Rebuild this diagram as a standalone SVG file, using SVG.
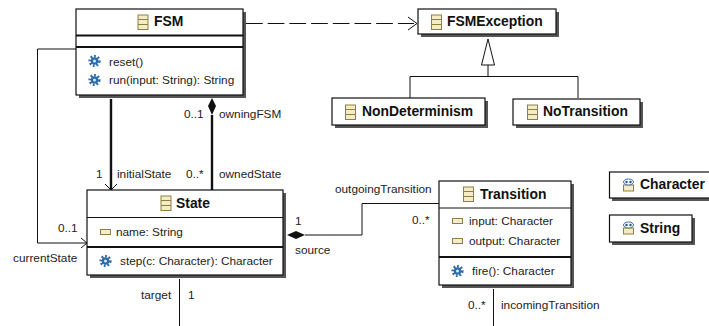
<svg xmlns="http://www.w3.org/2000/svg" width="709" height="326" viewBox="0 0 709 326">
<style>
text{font-family:"Liberation Sans",Arial,sans-serif;font-size:11.8px;fill:#222}
.t{font-weight:bold;font-size:13.9px;fill:#111}
.box{fill:#fff;stroke:#111;stroke-width:1.2}
.sh{fill:#555}
.d{stroke:#111;stroke-width:2;fill:none}
.d1{stroke:#111;stroke-width:1;fill:none}
.c{stroke:#111;stroke-width:1;fill:none}
.c2{stroke:#111;stroke-width:2.4;fill:none}
.ic{fill:#f3ecc4;stroke:#8d8044;stroke-width:1}
.opc{fill:none;stroke:#2c6aa8;stroke-width:2.600;stroke-dasharray:1.800 1.800}
</style>
<defs>
<filter id="b" x="-5%" y="-5%" width="110%" height="110%"><feGaussianBlur stdDeviation="0.6"/></filter>
<g id="cls"><rect x="-5" y="-7" width="10" height="14.500" class="ic"/><path d="M-5-2.500H5M-5 2.500H5" stroke="#8d8044" fill="none"/></g>
<g id="opi"><circle r="4.800" class="opc"/><circle r="3.800" fill="#2c6aa8"/><circle r="1.500" fill="#dbe8f4"/></g>
<g id="attr"><rect x="-5" y="-2.500" width="10" height="5" class="ic"/></g>
<g id="dt"><rect x="-5" y="0" width="10" height="6" class="ic"/><ellipse cx="0" cy="-3" rx="5" ry="3" fill="#fff" stroke="#3a6ea5"/><circle cx="-2" cy="-3" r="1.200" fill="#1d4f86"/><circle cx="2" cy="-3" r="1.200" fill="#1d4f86"/></g>
</defs>
<g id="connectors">
<path class="c" d="M76 49H37.500V243H87"/>
<path class="c" d="M81 238L87 243L81 248"/>
<path class="c2" d="M111 99V190"/>
<path class="c" d="M105 184L111 190L117 184"/>
<path class="c2" d="M212 115V190"/>
<path d="M212 98L216 106L212 115L208 106Z" fill="#111"/>
<path class="c" d="M246 23.500H414" stroke-dasharray="16.700 5"/>
<path class="c" d="M408 17L417 23.500L408 30"/>
<path class="c" d="M488 65V76.500M410 98V76.500H578V98"/>
<path d="M488 39L494.500 65H481.500Z" fill="#fff" stroke="#111"/>
<path class="c" d="M305 235H362V203.500H439"/>
<path d="M287 235L296 231L305 235L296 239Z" fill="#111"/>
<path class="c" d="M179.500 279V326"/>
<path class="c" d="M493.500 289V326"/>
</g>
<g id="FSM">
<rect class="sh" filter="url(#b)" x="79" y="12" width="167" height="86"/>
<rect class="box" x="76" y="9" width="167" height="86"/>
<path class="d" d="M76 35.500H243M76 47H243"/>
<use href="#cls" x="143" y="22"/>
<text class="t" x="154" y="26">FSM</text>
<use href="#opi" x="94.500" y="61"/><text x="109" y="65.500">reset()</text>
<use href="#opi" x="94.500" y="80"/><text x="109" y="84">run(input: String): String</text>
</g>
<g id="State">
<rect class="sh" filter="url(#b)" x="90" y="193" width="196" height="85"/>
<rect class="box" x="87" y="190" width="196" height="85"/>
<path class="d1" d="M87 217.500H283"/><path class="d" d="M87 247H283"/>
<use href="#cls" x="166" y="203"/>
<text class="t" x="176" y="207.500">State</text>
<use href="#attr" x="105.500" y="232"/><text x="116" y="235.500">name: String</text>
<use href="#opi" x="105.500" y="261"/><text x="120" y="265">step(c: Character): Character</text>
</g>
<g id="FSMException">
<rect class="sh" filter="url(#b)" x="421" y="12" width="138" height="25"/>
<rect class="box" x="418" y="9" width="138" height="25"/>
<use href="#cls" x="436.500" y="22"/>
<text class="t" x="447" y="26">FSMException</text>
</g>
<g id="NonDeterminism">
<rect class="sh" filter="url(#b)" x="335" y="101" width="153" height="27"/>
<rect class="box" x="332" y="98" width="153" height="27"/>
<use href="#cls" x="350.500" y="112"/>
<text class="t" x="362" y="116">NonDeterminism</text>
</g>
<g id="NoTransition">
<rect class="sh" filter="url(#b)" x="516" y="102" width="127" height="26"/>
<rect class="box" x="513" y="99" width="127" height="26"/>
<use href="#cls" x="532.500" y="112"/>
<text class="t" x="543" y="116">NoTransition</text>
</g>
<g id="Transition">
<rect class="sh" filter="url(#b)" x="442" y="184" width="132" height="104"/>
<rect class="box" x="439" y="181" width="132" height="104"/>
<path class="d1" d="M439 208H571"/><path class="d" d="M439 257H571"/>
<use href="#cls" x="468.500" y="194"/>
<text class="t" x="480" y="199">Transition</text>
<use href="#attr" x="457.500" y="221"/><text x="469" y="225">input: Character</text>
<use href="#attr" x="457.500" y="241"/><text x="469" y="245">output: Character</text>
<use href="#opi" x="457.500" y="271"/><text x="472" y="275">fire(): Character</text>
</g>
<g id="Character">
<rect class="sh" filter="url(#b)" x="612" y="175" width="110" height="26"/>
<rect class="box" x="609.500" y="172" width="110" height="26"/>
<use href="#dt" x="628.500" y="185"/>
<text class="t" x="640" y="189">Character</text>
</g>
<g id="String">
<rect class="sh" filter="url(#b)" x="612" y="218" width="83" height="27"/>
<rect class="box" x="609.500" y="215" width="82.500" height="27"/>
<use href="#dt" x="628.500" y="228"/>
<text class="t" x="640" y="232.500">String</text>
</g>
<g id="labels">
<text x="184" y="118">0..1</text>
<text x="219" y="118">owningFSM</text>
<text x="96" y="178">1</text>
<text x="117" y="178">initialState</text>
<text x="186" y="178">0..*</text>
<text x="219" y="178">ownedState</text>
<text x="58" y="232">0..1</text>
<text x="13" y="262">currentState</text>
<text x="141" y="299">target</text>
<text x="188" y="299">1</text>
<text x="295" y="225">1</text>
<text x="295" y="254">source</text>
<text x="335" y="193">outgoingTransition</text>
<text x="412" y="224">0..*</text>
<text x="468" y="309">0..*</text>
<text x="501" y="309">incomingTransition</text>
</g>
</svg>
